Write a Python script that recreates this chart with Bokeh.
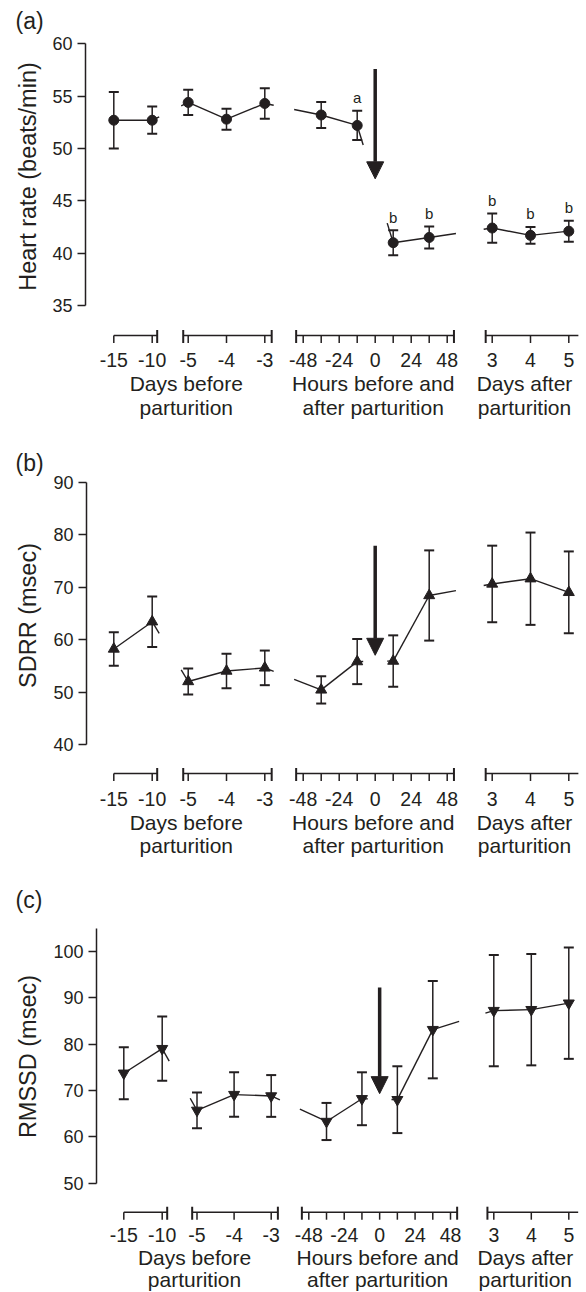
import numpy as np
from bokeh.plotting import figure
from bokeh.models import (Range1d, FixedTicker, ColumnDataSource, Whisker, TeeHead,
                          Arrow, NormalHead)
from bokeh.layouts import column, row
from bokeh.embed import file_html
from bokeh.resources import INLINE
from bokeh.core.properties import value

# ---------------- data ----------------
days_before_far = [-15, -10]
days_before_near = [-5, -4, -3]
hours_peri = [-36, -12, 12, 36]
days_after = [3, 4, 5]

hr_mean = [52.7, 52.7, 54.4, 52.8, 54.3, 53.2, 52.2, 41.0, 41.5, 42.4, 41.7, 42.1]
hr_sem = [2.7, 1.3, 1.2, 1.0, 1.45, 1.25, 1.4, 1.2, 1.05, 1.4, 0.8, 1.0]
hr_letters = ["", "", "", "", "", "", "a", "b", "b", "b", "b", "b"]

sdrr_mean = [58.2, 63.4, 52.0, 54.0, 54.6, 50.4, 55.8, 55.9, 68.4, 70.6, 71.6, 69.0]
sdrr_sem = [3.2, 4.8, 2.5, 3.3, 3.3, 2.6, 4.3, 4.9, 8.6, 7.3, 8.8, 7.8]

rmssd_mean = [73.7, 79.0, 65.7, 69.1, 68.8, 63.3, 68.2, 68.0, 83.1, 87.2, 87.4, 88.8]
rmssd_sem = [5.6, 6.9, 3.85, 4.8, 4.5, 4.0, 5.7, 7.2, 10.5, 12.0, 12.0, 12.0]

ticks_far = [-15, -10]
ticks_near = [-5, -4, -3]
ticks_hours = [-48, -36, -24, -12, 0, 12, 24, 36, 48]
labels_hours = ["-48", "", "-24", "", "0", "", "24", "", "48"]
ticks_after = [3, 4, 5]

group_line1 = ["Days before", "Hours before and", "Days after"]
group_line2 = ["parturition", "after parturition", "parturition"]

# arrow (parturition) start / end in y-units for each panel
arrow_a = (57.6, 47.1)
arrow_b = (77.9, 57.0)
arrow_c = (92.2, 69.3)

# ---------------- style ----------------
INK = "#231f20"
FONT = "Liberation Sans"
LABEL_W = 48
BASE_FIX = 7   # empirical baseline correction (px) for alphabetic text

SEG_ORDER = ["far", "near", "hours", "after"]
SEG_VALUES = {"far": days_before_far, "near": days_before_near,
              "hours": hours_peri, "after": days_after}
SEG_TICKS = {"far": (ticks_far, [str(t) for t in ticks_far]),
             "near": (ticks_near, [str(t) for t in ticks_near]),
             "hours": (ticks_hours, labels_hours),
             "after": (ticks_after, [str(t) for t in ticks_after])}
# axis extents of each broken segment (in the segment's own units)
SEG_EXT = {"far": (-15, -9.35), "near": (-5.13, -2.82),
           "hours": (-52.7, 52.5), "after": (2.83, 5.25)}
SEG_BARS = {"far": (False, True), "near": (True, True),
            "hours": (True, True), "after": (True, False)}


def no_align(p):
    try:
        p.frame_align = False
    except Exception:
        pass


def make_label_fig(spec):
    top, H = spec["top"], spec["H"]
    q = figure(width=LABEL_W, height=H, x_range=Range1d(0, LABEL_W),
               y_range=Range1d(top + H, top), output_backend="svg",
               toolbar_location=None, x_axis_type=None, y_axis_type=None,
               min_border_left=0, min_border_right=0,
               min_border_top=0, min_border_bottom=0)
    q.outline_line_color = None
    q.grid.visible = False
    no_align(q)
    q.text(x=[15], y=[spec["plbase"] - BASE_FIX], text=[spec["plabel"]],
           text_align="left", text_baseline="alphabetic",
           text_font=value(FONT), text_font_size="23px", text_color=INK)
    q.text(x=[27], y=[spec["ylabc"]], text=[spec["ylabel"]], angle=np.pi / 2,
           text_align="center", text_baseline="middle",
           text_font=value(FONT), text_font_size="23.5px", text_color=INK)
    return q


def make_panel(spec, means, sems, marker, msize, letters, arrow):
    top, H, ax, ppu = spec["top"], spec["H"], spec["ax"], spec["ppu"]
    vref, pref = spec["yref"]
    y_end = vref + (pref - top) / ppu
    y_start = vref - (top + H - pref) / ppu
    L = int(round(ax - LABEL_W))
    p = figure(width=586 - LABEL_W, height=H, x_range=Range1d(ax, 586),
               y_range=Range1d(y_start, y_end), output_backend="svg",
               toolbar_location=None, x_axis_type=None,
               min_border_left=L, min_border_right=0,
               min_border_top=0, min_border_bottom=0)
    no_align(p)
    p.extra_y_ranges = {"px": Range1d(start=top + H, end=top)}
    p.outline_line_color = None
    p.grid.visible = False

    yax = p.yaxis[0]
    yax.ticker = FixedTicker(ticks=spec["yticks"])
    yax.bounds = spec["ybounds"]
    yax.axis_line_color = INK
    yax.axis_line_width = 1.5
    yax.major_tick_line_color = INK
    yax.major_tick_line_width = 1.5
    yax.major_tick_out = 8
    yax.major_tick_in = 0
    yax.minor_tick_out = 0
    yax.minor_tick_in = 0
    yax.major_label_standoff = 5
    yax.major_label_text_font = FONT
    yax.major_label_text_font_size = "18px"
    yax.major_label_text_color = INK

    maps = spec["maps"]

    def to_px(seg, v):
        v0, p0, v1, p1 = maps[seg]
        return p0 + (v - v0) * (p1 - p0) / (v1 - v0)

    def val_to_py(v):
        return pref + (vref - v) * ppu

    # ----- data points -----
    xs = []
    for seg in SEG_ORDER:
        xs += [to_px(seg, v) for v in SEG_VALUES[seg]]
    ys = list(means)

    # visible x-intervals for the connecting line (broken axis)
    vis = []
    for seg in SEG_ORDER:
        a = to_px(seg, SEG_EXT[seg][0]) - 2
        b = to_px(seg, SEG_EXT[seg][1]) + 2
        if seg == "hours":
            vis.append((a, to_px(seg, -8)))
            vis.append((to_px(seg, 8), b))
        else:
            vis.append((a, b))
    lx, ly = [], []
    for i in range(len(xs) - 1):
        x0, y0, x1, y1 = xs[i], ys[i], xs[i + 1], ys[i + 1]
        for (a, b) in vis:
            lo, hi = max(x0, a), min(x1, b)
            if lo < hi:
                f = lambda x: y0 + (x - x0) * (y1 - y0) / (x1 - x0)
                lx.append([lo, hi])
                ly.append([f(lo), f(hi)])
    p.multi_line(lx, ly, line_color=INK, line_width=1.4)

    uppers = [m + s for m, s in zip(means, sems)]
    src = ColumnDataSource(dict(x=xs, y=ys, upper=uppers,
                                lower=[m - s for m, s in zip(means, sems)]))
    w = Whisker(base="x", upper="upper", lower="lower", source=src,
                dimension="height", line_color=INK, line_width=1.5,
                upper_head=TeeHead(size=10, line_color=INK, line_width=2),
                lower_head=TeeHead(size=10, line_color=INK, line_width=2))
    p.add_layout(w)
    p.scatter("x", "y", source=src, marker=marker, size=msize,
              fill_color=INK, line_color=INK)
    if letters:
        lsrc = ColumnDataSource(dict(
            x=xs, py=[val_to_py(u) - 6 - BASE_FIX for u in uppers], lab=letters))
        p.text("x", "py", text="lab", source=lsrc, y_range_name="px",
               text_align="center", text_baseline="alphabetic",
               text_font=value(FONT), text_font_size="15px", text_color=INK)

    # arrow marking parturition (0 h)
    xa = to_px("hours", 0)
    p.add_layout(Arrow(x_start=xa, y_start=arrow[0], x_end=xa, y_end=arrow[1],
                       line_color=INK, line_width=3.5,
                       end=NormalHead(size=17, fill_color=INK, line_color=INK,
                                      line_width=1)))

    # ----- broken x-axes -----
    yl = spec["xline"]
    for seg in SEG_ORDER:
        e0, e1 = to_px(seg, SEG_EXT[seg][0]), to_px(seg, SEG_EXT[seg][1])
        if seg == "far":
            e0 = to_px(seg, ticks_far[0])
        p.segment(x0=[e0], y0=[yl], x1=[e1], y1=[yl], y_range_name="px",
                  line_color=INK, line_width=1.5)
        tv, tl = SEG_TICKS[seg]
        tx = [to_px(seg, t) for t in tv]
        p.segment(x0=tx, y0=[yl] * len(tx), x1=tx, y1=[yl + 7.5] * len(tx),
                  y_range_name="px", line_color=INK, line_width=1.5)
        bl, br = SEG_BARS[seg]
        bx = []
        if bl:
            bx.append(e0)
        if br:
            bx.append(e1)
        if bx:
            p.segment(x0=bx, y0=[yl - 5.5] * len(bx), x1=bx,
                      y1=[yl + 7.5] * len(bx), y_range_name="px",
                      line_color=INK, line_width=2)
        p.text(x=tx, y=[spec["tickbase"] - BASE_FIX] * len(tx), text=tl,
               y_range_name="px", text_align="center", text_baseline="alphabetic",
               text_font=value(FONT), text_font_size="19.5px", text_color=INK)
    centers = [(to_px("far", -15) + to_px("near", -3)) / 2 - 3,
               to_px("hours", 0) - 2,
               to_px("after", 4) - 6]
    p.text(x=centers, y=[spec["lab1"] - BASE_FIX] * 3, text=group_line1,
           y_range_name="px", text_align="center", text_baseline="alphabetic",
           text_font=value(FONT), text_font_size="21px", text_color=INK)
    p.text(x=centers, y=[spec["lab2"] - BASE_FIX] * 3, text=group_line2,
           y_range_name="px", text_align="center", text_baseline="alphabetic",
           text_font=value(FONT), text_font_size="21px", text_color=INK)
    return p


maps_ab = {"far": (-15, 113.3, -10, 151.7), "near": (-5, 187.7, -3, 264.3),
           "hours": (-48, 302.7, 48, 446.7), "after": (3, 491.7, 5, 568.3)}
maps_c = {"far": (-15, 123.3, -10, 161.7), "near": (-5, 196.5, -3, 270.7),
          "hours": (-48, 308.3, 48, 450.0), "after": (3, 493.3, 5, 568.3)}

spec_a = dict(top=0, H=430, ax=85, ppu=10.468, yref=(60, 43.3),
              yticks=[35, 40, 45, 50, 55, 60], ybounds=(35, 60),
              xline=335, tickbase=366.5, lab1=390, lab2=413.5,
              plabel="(a)", plbase=27, ylabel="Heart rate (beats/min)", ylabc=176,
              maps=maps_ab)
spec_b = dict(top=430, H=430, ax=86, ppu=5.245, yref=(90, 481.7),
              yticks=[40, 50, 60, 70, 80, 90], ybounds=(40, 90),
              xline=773, tickbase=805, lab1=828.5, lab2=852,
              plabel="(b)", plbase=469, ylabel="SDRR (msec)", ylabc=615,
              maps=maps_ab)
spec_c = dict(top=860, H=432, ax=96, ppu=4.64, yref=(100, 950.7),
              yticks=[50, 60, 70, 80, 90, 100], ybounds=(50, 105),
              xline=1211.7, tickbase=1241.5, lab1=1264, lab2=1286,
              plabel="(c)", plbase=906, ylabel="RMSSD (msec)", ylabc=1056,
              maps=maps_c)

pa = make_panel(spec_a, hr_mean, hr_sem, "circle", 10, hr_letters, arrow_a)
pb = make_panel(spec_b, sdrr_mean, sdrr_sem, "triangle", 11, None, arrow_b)
pc = make_panel(spec_c, rmssd_mean, rmssd_sem, "inverted_triangle", 11, None, arrow_c)

layout = column(row(make_label_fig(spec_a), pa, spacing=0),
                row(make_label_fig(spec_b), pb, spacing=0),
                row(make_label_fig(spec_c), pc, spacing=0), spacing=0)
open("out.html", "w").write(file_html(layout, INLINE))
